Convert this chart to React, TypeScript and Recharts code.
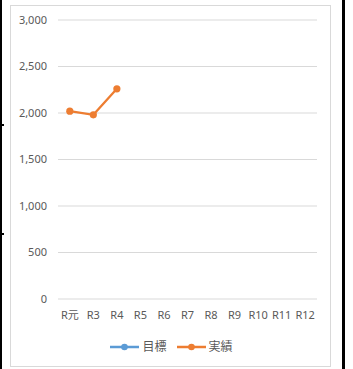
import React from 'react';
import { LineChart, Line, XAxis, YAxis, CartesianGrid } from 'recharts';

const categories = ['R元', 'R3', 'R4', 'R5', 'R6', 'R7', 'R8', 'R9', 'R10', 'R11', 'R12'];
const targetValues: (number | null)[] = [null, null, null, null, null, null, null, null, null, null, null];
const actualValues: (number | null)[] = [2020, 1980, 2260, null, null, null, null, null, null, null, null];
const yTicks = [0, 500, 1000, 1500, 2000, 2500, 3000];

const seriesDefs = [
  { key: 'target', name: '目標', color: '#5B9BD5' },
  { key: 'actual', name: '実績', color: '#ED7D31' },
];

const data = categories.map((c, i) => ({ name: c, target: targetValues[i], actual: actualValues[i] }));

const FONT = '"Noto Sans", "Noto Sans CJK JP", sans-serif';
const fmt = (v: number) => v.toLocaleString('en-US');

export default function App() {
  return (
    <div style={{ position: 'absolute', left: 0, top: 0, width: 353, height: 369, background: '#fff', fontFamily: FONT }}>
      <div style={{ position: 'absolute', left: 0, top: 0, width: 2, height: 369, background: '#000' }} />
      <div style={{ position: 'absolute', left: 0, top: 124, width: 4, height: 2, background: '#000' }} />
      <div style={{ position: 'absolute', left: 0, top: 233, width: 4, height: 2, background: '#000' }} />
      <div style={{ position: 'absolute', left: 342, top: 0, width: 3, height: 369, background: '#000' }} />
      <div style={{ position: 'absolute', left: 10, top: 5, width: 321, height: 362, border: '1px solid #d9d9d9', boxSizing: 'border-box' }} />
      <div style={{ position: 'absolute', left: 0, top: 0 }}>
        <LineChart width={353} height={369} data={data} margin={{ top: 20, right: 36, bottom: 40, left: 0 }}>
          <CartesianGrid vertical={false} stroke="#d9d9d9" strokeWidth={1} />
          <XAxis
            dataKey="name"
            scale="point"
            padding={{ left: 11.8, right: 11.8 }}
            height={30}
            axisLine={false}
            tickLine={false}
            tickSize={0}
            tickMargin={12}
            interval={0}
            tick={{ fontSize: 11, fill: '#595959', fontFamily: FONT }}
          />
          <YAxis
            width={58}
            domain={[0, 3000]}
            ticks={yTicks}
            tickFormatter={fmt}
            axisLine={false}
            tickLine={false}
            tickSize={0}
            tickMargin={11}
            tick={{ fontSize: 11, fill: '#595959', fontFamily: FONT }}
          />
          {seriesDefs.map((s) => (
            <Line
              key={s.key}
              dataKey={s.key}
              name={s.name}
              stroke={s.color}
              strokeWidth={2.25}
              dot={{ r: 3.6, fill: s.color, stroke: s.color, strokeWidth: 0 }}
              isAnimationActive={false}
              connectNulls={false}
            />
          ))}
        </LineChart>
      </div>
      <div style={{ position: 'absolute', left: 0, top: 339, width: 343, display: 'flex', justifyContent: 'center', alignItems: 'center', gap: 10 }}>
        {seriesDefs.map((s) => (
          <div key={s.key} style={{ display: 'flex', alignItems: 'center' }}>
            <svg width={29} height={10}>
              <line x1={0} y1={5} x2={29} y2={5} stroke={s.color} strokeWidth={2.5} />
              <circle cx={14.5} cy={5} r={3.3} fill={s.color} />
            </svg>
            <span style={{ fontSize: 12, color: '#595959', marginLeft: 3, lineHeight: '16px' }}>{s.name}</span>
          </div>
        ))}
      </div>
    </div>
  );
}
